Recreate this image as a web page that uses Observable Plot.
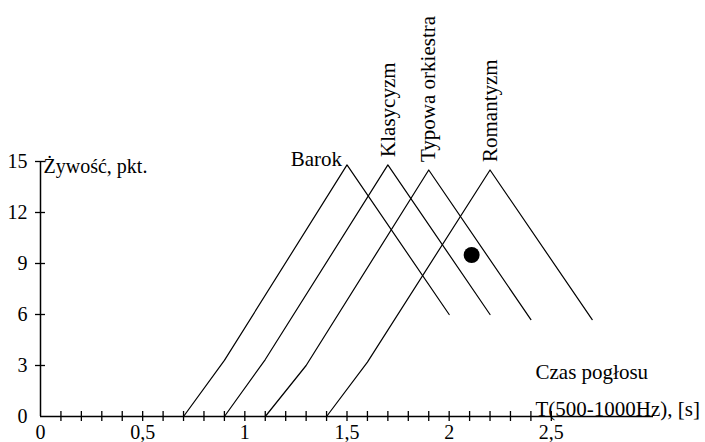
<!DOCTYPE html>
<html>
<head>
<meta charset="utf-8">
<script src="https://cdn.jsdelivr.net/npm/d3@7"></script>
<script src="https://cdn.jsdelivr.net/npm/@observablehq/plot@0.6"></script>
<style>
  html, body { margin: 0; padding: 0; background: #fff; }
  svg { display: block; }
</style>
</head>
<body>
<div id="chart"></div>
<script>
// Series: reverberation time (x) vs. liveliness score (y)
const barokX = [0.7, 0.9, 1.5, 2.0];
const barokY = [0, 3.3, 14.8, 6.0];
const klasycyzmX = [0.9, 1.1, 1.7, 2.2];
const klasycyzmY = [0, 3.35, 14.8, 6.0];
const typowaX = [1.1, 1.3, 1.9, 2.4];
const typowaY = [0, 3.0, 14.5, 5.7];
const romantyzmX = [1.4, 1.6, 2.2, 2.7];
const romantyzmY = [0, 3.2, 14.5, 5.7];

const seriesNames = ["Barok", "Klasycyzm", "Typowa orkiestra", "Romantyzm"];

// Single measured point
const pointX = [2.11];
const pointY = [9.5];

// Axis ticks and labels
const xMinorTicks = [0.1, 0.2, 0.3, 0.4, 0.5, 0.6, 0.7, 0.8, 0.9, 1.0, 1.1, 1.2, 1.3, 1.4, 1.5, 1.6, 1.7, 1.8, 1.9, 2.0, 2.1, 2.2, 2.3, 2.4, 2.5];
const xLabelTicks = [0, 0.5, 1, 1.5, 2, 2.5];
const yTicks = [3, 6, 9, 12, 15];
const yLabelTicks = [0, 3, 6, 9, 12, 15];
const yTitle = "Żywość, pkt.";
const xTitle = "Czas pogłosu\nT(500-1000Hz), [s]";

const seriesX = [barokX, klasycyzmX, typowaX, romantyzmX];
const seriesY = [barokY, klasycyzmY, typowaY, romantyzmY];
const lineData = seriesNames.flatMap((name, s) =>
  seriesX[s].map((x, i) => ({name, x, y: seriesY[s][i]})));
// peak of each series used to anchor its label
const peaks = seriesNames.map((name, s) => {
  const i = seriesY[s].indexOf(d3.max(seriesY[s]));
  return {name, x: seriesX[s][i], y: seriesY[s][i]};
});
const points = pointX.map((x, i) => ({x, y: pointY[i]}));
const fmt = d => String(d).replace(".", ",");
const serif = "Liberation Serif";

const chart = Plot.plot({
  width: 705,
  height: 442,
  marginTop: 161,
  marginBottom: 26,
  marginLeft: 40,
  marginRight: 52,
  x: {domain: [0, 3], label: null},
  y: {domain: [0, 15], label: null},
  style: {
    fontFamily: serif,
    fontSize: "20px",
    color: "black",
    background: "white"
  },
  marks: [
    Plot.axisX({ticks: xLabelTicks, tickSize: 0, tickPadding: 8, tickFormat: fmt, fontSize: 20, fontFamily: serif, label: null}),
    Plot.axisY({ticks: yLabelTicks, tickSize: 0, tickPadding: 13, tickFormat: fmt, fontSize: 20, fontFamily: serif, label: null}),
    Plot.ruleX([0], {y1: 0, y2: 15, stroke: "black", strokeWidth: 1.5}),
    Plot.ruleY([0], {x1: 0, x2: 3, stroke: "black", strokeWidth: 1.5}),
    Plot.ruleX(xMinorTicks, {x: d => d, y1: 0, y2: 0, insetTop: -5, insetBottom: -5, stroke: "black", strokeWidth: 1.3}),
    Plot.ruleY(yTicks, {y: d => d, x1: 0, x2: 0, insetLeft: -5, insetRight: -5, stroke: "black", strokeWidth: 1.3}),
    Plot.line(lineData, {x: "x", y: "y", z: "name", stroke: "black", strokeWidth: 1.2}),
    Plot.dot(points, {x: "x", y: "y", r: 8, fill: "black", stroke: "none"}),
    Plot.text(peaks.filter(d => d.name === "Barok"), {x: "x", y: "y", text: "name", textAnchor: "end", lineAnchor: "bottom", dx: -5, dy: 1.5, fontSize: 21, fontFamily: serif}),
    Plot.text(peaks.filter(d => d.name !== "Barok"), {x: "x", y: "y", text: "name", rotate: -90, textAnchor: "start", lineAnchor: "middle", dy: -8, fontSize: 21, fontFamily: serif}),
    Plot.text([yTitle], {frameAnchor: "top-left", text: d => d, textAnchor: "start", lineAnchor: "middle", dx: 3, dy: 5, fontSize: 20, fontFamily: serif}),
    Plot.text([xTitle], {frameAnchor: "bottom-right", text: d => d, textAnchor: "start", lineAnchor: "bottom", lineHeight: 1.75, dx: -118, dy: -1, fontSize: 21, fontFamily: serif})
  ]
});
document.getElementById("chart").appendChild(chart);
</script>
</body>
</html>
